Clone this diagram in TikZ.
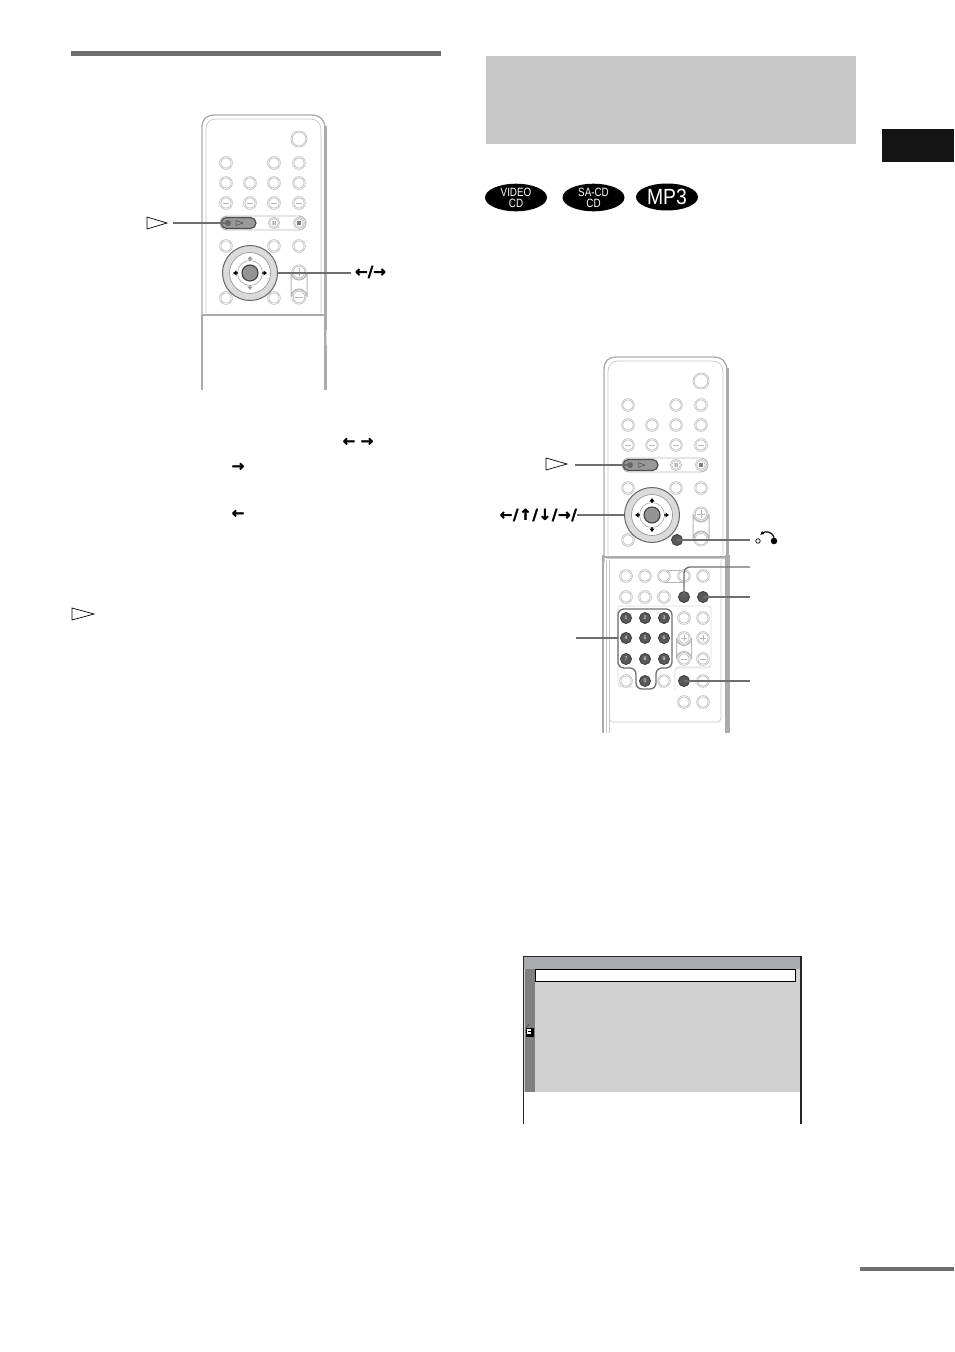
\documentclass[tikz,border=0pt]{standalone}
\usepackage{fontspec}
\setmainfont{Liberation Sans}
\newfontfamily\arrowfont[FakeBold=2.5]{DejaVu Sans Bold}
\usetikzlibrary{arrows.meta,shapes.geometric}
\definecolor{rimgray}{HTML}{A9ABAE}
\definecolor{btnline}{HTML}{B4B6B8}
\definecolor{connline}{HTML}{6D6E70}
\definecolor{darkbtn}{HTML}{58595B}
\tikzset{
  btn/.style={circle,draw=btnline,line width=0.6pt,double=black!6,double distance=0.7pt,fill=white,minimum size=11.5pt,inner sep=0pt},
  btnbig/.style={btn,minimum size=15pt},
  dkbtn/.style={circle,draw=black!75,line width=0.9pt,fill=darkbtn,minimum size=11pt,inner sep=0pt,text=white,font=\fontsize{5}{5}\selectfont},
  conn/.style={draw=connline,line width=1.3pt},
  rim/.style={draw=rimgray,line width=1.3pt},
  rimthin/.style={draw=black!22,line width=0.7pt},
  band/.style={draw=rimgray,line width=3pt},
  tri/.style={draw=black,line width=0.7pt,fill=white,line join=miter},
  arrowlabel/.style={inner sep=0pt,font=\arrowfont\fontsize{15}{15}\selectfont},
  pilldark/.style={draw=black!70,line width=1.2pt,fill=black!40,rounded corners=5.5pt},
  pilllight/.style={draw=btnline,line width=0.9pt,fill=white,rounded corners=7pt},
  discoval/.style={ellipse,fill=black,text=white,inner sep=0pt,align=center},
}
\newcommand{\discline}[1]{\scalebox{.82}[1]{#1}}
\newcommand{\remotehead}[1]{%
  \draw[rim] (202,320) -- (202,128) .. controls (202,119) and (206,115) .. (215,115) -- (311,115) .. controls (320,115) and (325,120) .. (325,128);
  \draw[band] (325.5,126) -- (325.5,315);
  \draw[rimthin] (206,313) -- (206,130) .. controls (206,123) and (209,119) .. (216,119) -- (310,119) .. controls (317,119) and (321,123) .. (321,130) -- (321,313);
  \draw[rim] (202,315) -- (325,315);
  \node[btnbig] (top) at (299,139) {};
  \foreach \n/\x/\y in {a/226/163,b/274/163,c/299/163,d/226/183,e/250/183,f/274/183,g/299/183,h/226/203,i/250/203,j/274/203,k/299/203,l/226/246,m/274/246,n/299/246,o/226/298}
    \node[btn] (k\n) at (\x,\y) {};
  \foreach \n in {h,i,j,k} \draw[btnline,line width=0.9pt] ([xshift=-3pt]k\n.center) -- ([xshift=3pt]k\n.center);
  \draw[pilllight] (220,216) rectangle (306,230);
  \draw[pilldark] (221,217.5) rectangle (256,228.5);
  \node[circle,fill=black!60,minimum size=6pt,inner sep=0pt] (play) at (228,223) {};
  \draw[black!70,line width=0.5pt] (236,220.5) -- (236,225.5) -- (243,223) -- cycle;
  \node[btn,minimum size=10pt] (pause) at (274,223) {};
  \node[btn,minimum size=10pt] (stop) at (299,223) {};
  \fill[black!50] (272.5,221) rectangle (273.5,225) (274.5,221) rectangle (275.5,225);
  \fill[black!50] (297,221) rectangle (301,225);
  % joystick ring
  \node[circle,draw=black!60,line width=1pt,fill=black!14,minimum size=55pt,inner sep=0pt] (ring) at (250,273) {};
  \node[circle,draw=black!45,line width=0.6pt,fill=white,minimum size=41pt,inner sep=0pt] at (250,273) {};
  \node[circle,draw=black!40,line width=0.5pt,minimum size=25pt,inner sep=0pt] at (250,273) {};
  \node[circle,draw=black!75,line width=1.1pt,fill=black!42,minimum size=16pt,inner sep=0pt] (enter) at (250,273) {};
  \fill[black] (233,273) -- (236.5,270.5) -- (236.5,272.3) -- (238,272.3) -- (238,273.7) -- (236.5,273.7) -- (236.5,275.5) -- cycle;
  \fill[black] (267,273) -- (263.5,270.5) -- (263.5,272.3) -- (262,272.3) -- (262,273.7) -- (263.5,273.7) -- (263.5,275.5) -- cycle;
  \fill[black!#1] (250,256) -- (247.5,259.5) -- (249.3,259.5) -- (249.3,261) -- (250.7,261) -- (250.7,259.5) -- (252.5,259.5) -- cycle;
  \fill[black!#1] (250,290) -- (247.5,286.5) -- (249.3,286.5) -- (249.3,285) -- (250.7,285) -- (250.7,286.5) -- (252.5,286.5) -- cycle;
  % volume pill
  \draw[btnline,line width=1pt] (291,272) -- (291,297) arc[start angle=180,end angle=360,radius=8] -- (307,272) arc[start angle=0,end angle=180,radius=8];
  \node[btn,minimum size=13pt] (volup) at (299,272) {};
  \node[btn,minimum size=13pt] (voldn) at (299,297) {};
  \draw[btnline,line width=0.9pt] (295,272) -- (303,272) (299,268) -- (299,276) (295,297) -- (303,297);
}
\begin{document}
\begin{tikzpicture}[x=1pt,y=-1pt]
\useasboundingbox (0,0) rectangle (954,1352);
% page furniture
\fill[connline] (71,51) rectangle (441,56);
\fill[black!22] (486,56) rectangle (856,144);
\fill[black!92] (882,129) rectangle (954,162);
\fill[connline] (860,1267) rectangle (954,1270.5);
% disc logos
\node[discoval,minimum width=62pt,minimum height=27pt,font=\fontsize{12}{11}\selectfont] (video) at (516,197.5) {\discline{VIDEO}\\\discline{CD}};
\node[discoval,minimum width=62pt,minimum height=27pt,font=\fontsize{12}{11}\selectfont] (sacd) at (593.5,197.5) {\discline{SA-CD}\\\discline{CD}};
\node[discoval,minimum width=62pt,minimum height=27pt,font=\fontsize{22}{22}\selectfont] (mp3) at (667,197) {\scalebox{.88}[1]{MP3}};
% ---- left remote
\begin{scope}[name prefix=l-]
  \remotehead{40}
  \node[btn] (kp) at (274,298) {};
  \draw[rim] (202,315) -- (202,390);
  \draw[band] (325.5,315) -- (325.5,390);
  \draw[black!15,line width=0.8pt] (326,330) -- (326,345);
\end{scope}
\draw[tri] (147,217) -- (167,223) -- (147,229) -- cycle;
\coordinate (lplayend) at (173,223);
\draw[conn] (lplayend) -- (l-play.west);
\node[arrowlabel] (llabel) at (370.5,272) {←/→};
\draw[conn] (llabel.west |- 0,273) ++(-4,0) -- (l-ring.east |- 0,273);
% text-column arrows on the left
\node[arrowlabel] (a1) at (349,442) {←};
\node[arrowlabel] (a2) at (367,442) {→};
\node[arrowlabel] (a3) at (238,467) {→};
\node[arrowlabel] (a4) at (238,514) {←};
\draw[tri] (72,608) -- (94,614) -- (72,620) -- cycle;
% ---- right remote
\begin{scope}[shift={(402,242)},name prefix=r-]
  \remotehead{100}
  \node[dkbtn] (ret) at (275,298) {};
\end{scope}
\draw[tri] (546,458) -- (567,464) -- (546,470) -- cycle;
\coordinate (rplayend) at (575,465);
\draw[conn] (rplayend) -- (r-play.west);
\node[arrowlabel,anchor=east] (rlabel) at (577,515) {←\kern.7pt/\kern.7pt↑\kern.7pt/\kern.7pt↓\kern.7pt/\kern.7pt→\kern.7pt/};
\draw[conn] (rlabel.east) -- (r-ring.west |- 0,515);
% return icon
\coordinate (retend) at (750,540);
\draw[conn] (r-ret.center) -- (retend);
\node[circle,draw=black,line width=0.7pt,fill=white,minimum size=4.5pt,inner sep=0pt] (reto) at (758,541) {};
\node[circle,fill=black,minimum size=6.5pt,inner sep=0pt] (retf) at (774,541) {};
\draw[line width=1.2pt,-{Latex[length=4pt,width=4pt]}] (retf.north) .. controls (772,531) and (765,531) .. (760,535);
% lower panel of the right remote
\draw[rim] (603,555) -- (603,733);
\draw[band,line width=4.5pt] (727.5,555) -- (727.5,733);
\draw[rimthin] (609,560) -- (609,733);
\draw[rimthin] (606,560) -- (606,733);
\draw[rimthin] (721,560) -- (721,718) arc[start angle=0,end angle=90,radius=4] -- (613,722) arc[start angle=90,end angle=180,radius=4];
\draw[rimthin] (607,558) -- (725,558);
% light sub-panels
\draw[black!15,line width=0.8pt,rounded corners=3pt] (618,606) -- (711,606) -- (711,667) -- (676,667);
\draw[black!15,line width=0.8pt,rounded corners=3pt] (618,606) -- (618,687) -- (636,687);
\draw[black!15,line width=0.8pt,rounded corners=3pt] (675,690) -- (675,668) -- (711,668);
% lower buttons
\draw[btnline,line width=0.9pt] (664,570) -- (684,570) (664,582) -- (684,582);
\foreach \n/\x/\y in {a/626/576,b/645/576,c/664/576,d/684/576,e/703/576,f/626/597,g/645/597,h/664/597,i/684/618,j/703/618,k/703/638,l/703/659,m/626/681,n/664/681,o/703/681,p/684/702,q/703/702}
  \node[btn] (p\n) at (\x,\y) {};
\draw[btnline,line width=1pt] (676.5,638) -- (676.5,659) arc[start angle=180,end angle=360,radius=7.5] -- (691.5,638) arc[start angle=0,end angle=180,radius=7.5];
\node[btn] (pr) at (684,638) {};
\node[btn] (ps) at (684,659) {};
\draw[btnline,line width=0.8pt] (681,638) -- (687,638) (684,635) -- (684,641) (681,659) -- (687,659);
\draw[btnline,line width=0.8pt] (700,638) -- (706,638) (703,635) -- (703,641) (700,659) -- (706,659);
\foreach \n/\x/\y/\t in {1/626/618/1,2/645/618/2,3/664/618/3,4/626/638/4,5/645/638/5,6/664/638/6,7/626/659/7,8/645/659/8,9/664/659/9,0/645/681/0}
  \node[dkbtn] (n\n) at (\x,\y) {\t};
\node[dkbtn] (d1) at (684,597) {};
\node[dkbtn] (d2) at (703,597) {};
\node[dkbtn] (d3) at (684,681) {};
\draw[connline,line width=1.3pt,rounded corners=6pt] (618,609) -- (672,609) -- (672,668) -- (656,668) -- (656,689) -- (636,689) -- (636,668) -- (618,668) -- cycle;
\coordinate (e1) at (750,567);
\coordinate (e2) at (750,597);
\coordinate (e3) at (750,681);
\coordinate (e4) at (576,638);
\coordinate (padleft) at (618,638);
\draw[conn,rounded corners=6pt] (d1.center) |- (e1);
\draw[conn] (d2.center) -- (e2);
\draw[conn] (d3.center) -- (e3);
\draw[conn] (e4) -- (padleft);
% on-screen menu
\fill[black!18] (524,957) rectangle (800,1092);
\fill[rimgray] (524,957) rectangle (800,969);
\fill[black!50] (525,969) rectangle (535,1092);
\draw[black,line width=1pt] (535,969.5) rectangle (795.5,981.5);
\fill[white] (535.5,970) rectangle (795,981);
\draw[black!85,line width=1.6pt] (523.5,1124) -- (523.5,956.5) -- (801,956.5) -- (801,1124);
\fill[black] (526,1028) rectangle (534,1037);
\fill[white] (527,1029) rectangle (531,1034);
\fill[black] (528,1031) rectangle (531,1032);
\draw[black!70,line width=0.6pt] (526,1028) -- (529,1024);
\end{tikzpicture}
\end{document}
